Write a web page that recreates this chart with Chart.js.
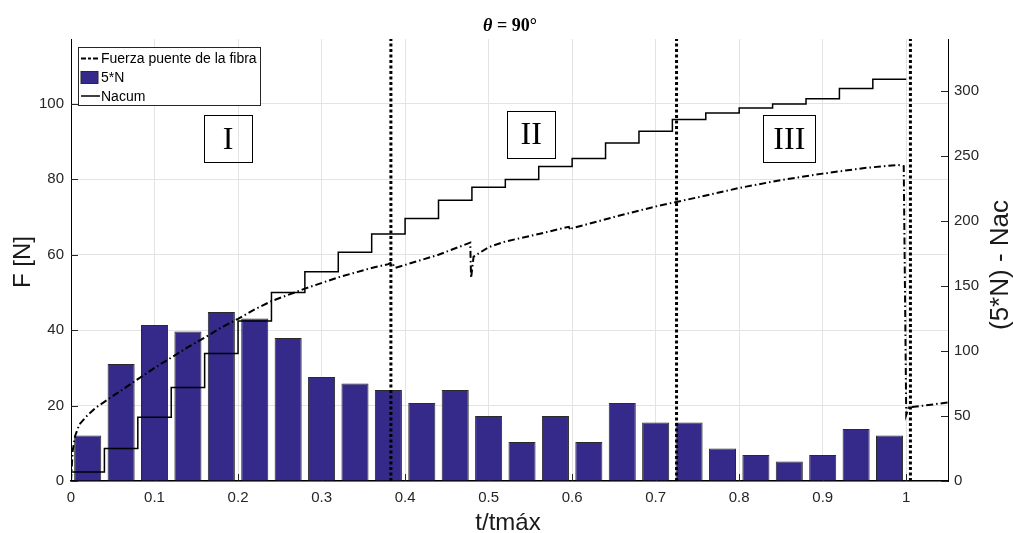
<!DOCTYPE html>
<html>
<head>
<meta charset="utf-8">
<title>θ = 90°</title>
<script src="https://cdn.jsdelivr.net/npm/chart.js@4.4.0/dist/chart.umd.min.js"></script>
<style>
    body {
        margin: 0;
        padding: 0;
        background: #fff;
        overflow: hidden;
    }
    #contenedor {
        position: relative;
        width: 1013px;
        height: 533px;
    }
</style>
</head>
<body>
<div id="contenedor">
    <canvas id="grafica" width="1013" height="533"></canvas>
</div>
<script>
// Datos
const barrasX = [0.02, 0.06, 0.10, 0.14, 0.18, 0.22, 0.26, 0.30, 0.34, 0.38, 0.42, 0.46, 0.50,
                 0.54, 0.58, 0.62, 0.66, 0.70, 0.74, 0.78, 0.82, 0.86, 0.90, 0.94, 0.98];
const cincoN = [35, 90, 120, 115, 130, 125, 110, 80, 75, 70, 60, 70, 50,
                30, 50, 30, 60, 45, 45, 25, 20, 15, 20, 40, 35];

const nacumX = [0, 0.04, 0.08, 0.12, 0.16, 0.20, 0.24, 0.28, 0.32, 0.36, 0.40, 0.44, 0.48,
                0.52, 0.56, 0.60, 0.64, 0.68, 0.72, 0.76, 0.80, 0.84, 0.88, 0.92, 0.96, 1.00];
const nacum = [7, 25, 49, 72, 98, 123, 145, 161, 176, 190, 202, 216, 226,
               232, 242, 248, 260, 269, 278, 283, 287, 290, 294, 302, 309, 309];

// Fuerza puente de la fibra (eje izquierdo)
const fuerzaX = [0, 0.002, 0.005, 0.01, 0.02, 0.03, 0.04, 0.06, 0.08, 0.10, 0.12, 0.14, 0.16, 0.18,
                 0.20, 0.22, 0.24, 0.28, 0.32, 0.36, 0.38, 0.384, 0.388, 0.40, 0.44, 0.478, 0.479,
                 0.482, 0.50, 0.52, 0.56, 0.596, 0.598, 0.60, 0.65, 0.70, 0.725, 0.75, 0.80, 0.85,
                 0.90, 0.95, 0.99, 0.997, 1.0, 1.003, 1.05];
const fuerza = [0, 8, 12, 15, 17.5, 19.5, 21, 24, 27, 30, 32.7, 35.5, 38, 40.7,
                43, 45.5, 47.7, 51, 54, 56.5, 57.5, 58, 56.5, 57.3, 60, 63.2, 53.8,
                59.5, 62, 63.5, 65.5, 67.4, 66.5, 67, 70, 72.8, 74, 75.2, 77.7, 79.8,
                81.5, 83, 83.8, 83.5, 17.5, 19.5, 20.8];

// Límites de las zonas I, II, III
const limitesX = [0.383, 0.725, 1.005];
const zonas = [
    { texto: 'I', x: 0.188, y: 90.8 },
    { texto: 'II', x: 0.551, y: 92 },
    { texto: 'III', x: 0.860, y: 90.7 }
];

const ejeXTicks = [0, 0.1, 0.2, 0.3, 0.4, 0.5, 0.6, 0.7, 0.8, 0.9, 1];
const yIzqMax = 117.2;
const yDerMax = 340;

const colorBarra = '#35298a';
const fuenteSans = 'Liberation Sans, Arial, sans-serif';
const fuenteSerif = 'Liberation Serif, Times New Roman, serif';

function puntos(xs, ys) {
    return xs.map((x, i) => ({ x: x, y: ys[i] }));
}

const datasets = [
    {
        type: 'line',
        label: 'Fuerza puente de la fibra',
        data: puntos(fuerzaX, fuerza),
        yAxisID: 'y',
        borderColor: '#000',
        borderWidth: 2,
        borderDash: [7, 3, 1.5, 3],
        pointRadius: 0,
        tension: 0,
        fill: false,
        order: 1
    },
    {
        type: 'bar',
        label: '5*N',
        data: puntos(barrasX, cincoN),
        yAxisID: 'y2',
        backgroundColor: colorBarra,
        borderColor: '#2a2a2a',
        borderWidth: 1,
        barPercentage: 0.9,
        categoryPercentage: 0.9,
        order: 3
    },
    {
        type: 'line',
        label: 'Nacum',
        data: puntos(nacumX, nacum),
        yAxisID: 'y2',
        borderColor: '#000',
        borderWidth: 1.5,
        stepped: 'before',
        pointRadius: 0,
        fill: false,
        order: 2
    }
];

// Líneas punteadas verticales
limitesX.forEach(lx => {
    datasets.push({
        type: 'line',
        label: 'limite',
        data: [{ x: lx, y: 0 }, { x: lx, y: yIzqMax }],
        yAxisID: 'y',
        borderColor: '#000',
        borderWidth: 3,
        borderDash: [3, 2.5],
        pointRadius: 0,
        fill: false,
        order: 0
    });
});

const decoraciones = {
    id: 'decoraciones',
    beforeDatasetsDraw(chart) {
        // marcas hacia dentro, como en MATLAB
        const { ctx, chartArea: a, scales } = chart;
        ctx.save();
        ctx.strokeStyle = '#262626';
        ctx.lineWidth = 1;
        ctx.beginPath();
        scales.x.ticks.forEach(t => {
            const px = Math.round(scales.x.getPixelForValue(t.value)) + 0.5;
            ctx.moveTo(px, a.bottom);
            ctx.lineTo(px, a.bottom - 7);
        });
        scales.y.ticks.forEach(t => {
            const py = Math.round(scales.y.getPixelForValue(t.value)) + 0.5;
            ctx.moveTo(a.left, py);
            ctx.lineTo(a.left + 7, py);
        });
        scales.y2.ticks.forEach(t => {
            const py = Math.round(scales.y2.getPixelForValue(t.value)) + 0.5;
            ctx.moveTo(a.right, py);
            ctx.lineTo(a.right - 7, py);
        });
        ctx.stroke();
        ctx.restore();
    },
    afterDraw(chart) {
        const { ctx, chartArea: a, scales } = chart;
        const cx = (a.left + a.right) / 2;
        const cy = (a.top + a.bottom) / 2;
        ctx.save();

        // Título
        ctx.fillStyle = '#000';
        ctx.textBaseline = 'middle';
        const fTheta = 'italic bold 18px ' + fuenteSerif;
        const fResto = 'bold 18px ' + fuenteSerif;
        ctx.font = fTheta;
        const wTheta = ctx.measureText('θ').width;
        ctx.font = fResto;
        const resto = ' = 90°';
        const wResto = ctx.measureText(resto).width;
        let tx = 510 - (wTheta + wResto) / 2;
        ctx.textAlign = 'left';
        ctx.font = fTheta;
        ctx.fillText('θ', tx, 26);
        ctx.font = fResto;
        ctx.fillText(resto, tx + wTheta, 26);

        // Títulos de ejes
        ctx.fillStyle = '#1a1a1a';
        ctx.textAlign = 'center';
        ctx.font = '24px ' + fuenteSans;
        ctx.fillText('t/tmáx', 508, 523);
        ctx.save();
        ctx.translate(23, cy + 2);
        ctx.rotate(-Math.PI / 2);
        ctx.fillText('F [N]', 0, 0);
        ctx.restore();
        ctx.save();
        ctx.translate(1001, cy + 5);
        ctx.rotate(-Math.PI / 2);
        ctx.font = '26px ' + fuenteSans;
        ctx.fillText('(5*N) - Nac', 0, 0);
        ctx.restore();

        // Recuadros I, II, III
        ctx.font = '32px ' + fuenteSerif;
        ctx.strokeStyle = '#000';
        ctx.lineWidth = 1;
        ctx.fillStyle = '#000';
        zonas.forEach(z => {
            const px = scales.x.getPixelForValue(z.x);
            const py = scales.y.getPixelForValue(z.y);
            const w = Math.max(48, ctx.measureText(z.texto).width + 20);
            const h = 47;
            ctx.strokeRect(Math.round(px - w / 2) + 0.5, Math.round(py - h / 2) + 0.5, Math.round(w), h);
            ctx.fillText(z.texto, px, py + 2);
        });

        // Leyenda
        const lx = 78.5, ly = 47.5, lw = 182, lh = 58;
        ctx.fillStyle = '#fff';
        ctx.fillRect(lx, ly, lw, lh);
        ctx.strokeStyle = '#262626';
        ctx.strokeRect(lx, ly, lw, lh);
        const filas = [ly + 11, ly + 30, ly + 48.5];
        ctx.strokeStyle = '#000';
        ctx.lineWidth = 2;
        ctx.setLineDash([5, 2, 3, 2]);
        ctx.beginPath();
        ctx.moveTo(lx + 2.5, filas[0]);
        ctx.lineTo(lx + 21.5, filas[0]);
        ctx.stroke();
        ctx.setLineDash([]);
        ctx.fillStyle = colorBarra;
        ctx.fillRect(lx + 2.5, filas[1] - 6, 17, 12);
        ctx.lineWidth = 1;
        ctx.strokeStyle = '#2a2a2a';
        ctx.strokeRect(lx + 2.5, filas[1] - 6, 17, 12);
        ctx.strokeStyle = '#000';
        ctx.lineWidth = 1.5;
        ctx.beginPath();
        ctx.moveTo(lx + 2.5, filas[2]);
        ctx.lineTo(lx + 21.5, filas[2]);
        ctx.stroke();
        ctx.fillStyle = '#000';
        ctx.textAlign = 'left';
        ctx.font = '14px ' + fuenteSans;
        ctx.fillText('Fuerza puente de la fibra', lx + 22.5, filas[0] + 1);
        ctx.fillText('5*N', lx + 22.5, filas[1] + 1);
        ctx.fillText('Nacum', lx + 22.5, filas[2] + 1);

        ctx.restore();
    }
};

const estiloTicks = {
    color: '#262626',
    font: { family: fuenteSans, size: 15 }
};

new Chart(document.getElementById('grafica').getContext('2d'), {
    type: 'bar',
    data: { datasets: datasets },
    options: {
        responsive: false,
        animation: false,
        layout: { padding: { top: 39, left: 0, right: 0, bottom: 0 } },
        plugins: {
            legend: { display: false },
            title: { display: false },
            tooltip: { enabled: false }
        },
        scales: {
            x: {
                type: 'linear',
                min: 0,
                max: 1.05,
                offset: false,
                afterFit: s => { s.height = 52; },
                afterBuildTicks: s => { s.ticks = ejeXTicks.map(v => ({ value: v })); },
                ticks: Object.assign({ padding: 8, maxRotation: 0, callback: v => String(v) }, estiloTicks),
                grid: { color: '#e3e3e3', drawTicks: false, offset: false },
                border: { color: '#000', width: 1.5 }
            },
            y: {
                position: 'left',
                min: 0,
                max: yIzqMax,
                afterFit: s => { s.width = 71; },
                ticks: Object.assign({ stepSize: 20, includeBounds: false, padding: 7 }, estiloTicks),
                grid: { color: '#e3e3e3', drawTicks: false },
                border: { color: '#000', width: 1 }
            },
            y2: {
                position: 'right',
                min: 0,
                max: yDerMax,
                afterFit: s => { s.width = 65; },
                ticks: Object.assign({ stepSize: 50, includeBounds: false, padding: 6 }, estiloTicks),
                grid: { drawOnChartArea: false, drawTicks: false },
                border: { color: '#000', width: 1 }
            }
        }
    },
    plugins: [decoraciones]
});
</script>
</body>
</html>
